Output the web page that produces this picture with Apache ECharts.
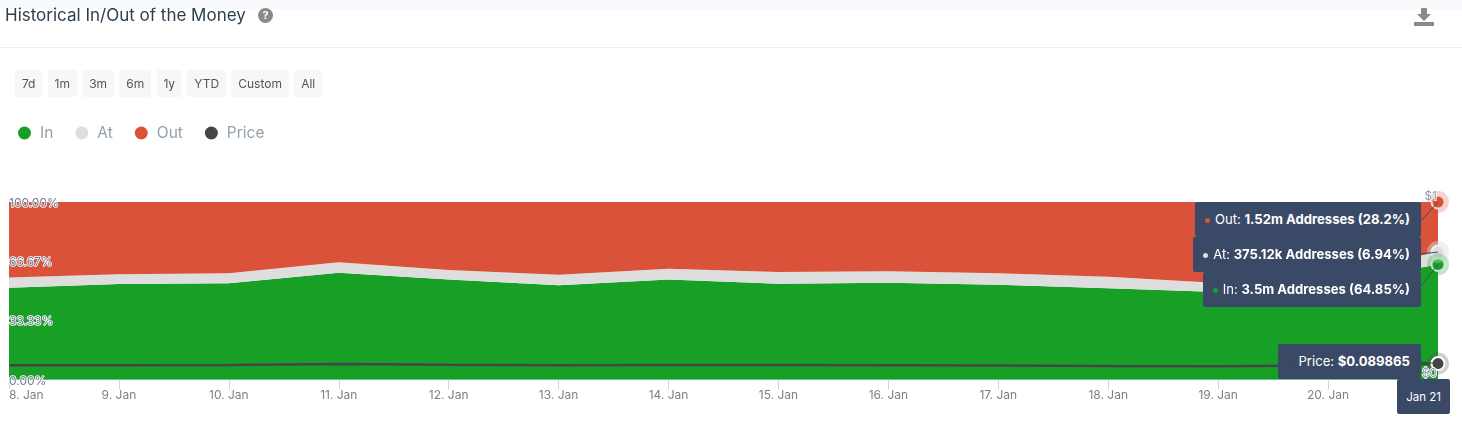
<!DOCTYPE html>
<html>
<head>
<meta charset="utf-8">
<title>Historical In/Out of the Money</title>
<script src="https://cdn.jsdelivr.net/npm/echarts@6/dist/echarts.min.js"></script>
<style>
    html, body { margin: 0; padding: 0; background: #fff; font-family: Inter, "Noto Sans", sans-serif; }
    #page { position: relative; width: 1462px; height: 431px; overflow: hidden; }
    #topBand { position: absolute; left: 0; top: 0; width: 1462px; height: 9px; background: #f8f9fd; }
    #pageTitle { position: absolute; left: 5px; top: 5px; font-size: 17px; line-height: 20px; color: #2d3e4e; }
    #helpIcon { position: absolute; left: 258px; top: 8px; width: 15px; height: 15px; border-radius: 50%; background: #8a8a8a; color: #fff; font-size: 11px; font-weight: 700; line-height: 15px; text-align: center; }
    #saveIcon { position: absolute; left: 1414px; top: 8px; }
    #titleRule { position: absolute; left: 0; top: 47px; width: 1462px; height: 1px; background: #eeeeee; }
    #ranges { position: absolute; left: 15px; top: 70px; display: flex; gap: 5.4px; }
    #ranges div { height: 27px; line-height: 28px; padding: 0 6.9px; background: #f7f7f7; border-radius: 2px; font-size: 12px; color: #555; }
    #chart { position: absolute; left: 0; top: 0; width: 1462px; height: 431px; }
    .tip { position: absolute; right: 41px; height: 35px; line-height: 35px; padding: 0 11px 0 10px; background: #3a4a66; border-radius: 2px; color: #fff; font-size: 13.1px; white-space: nowrap; }
    .tip i { display: inline-block; width: 5px; height: 5px; border-radius: 50%; margin-right: 5px; vertical-align: 1px; }
    #dateTip { position: absolute; left: 1397px; top: 379px; width: 53px; height: 35px; line-height: 36px; background: #3a4a66; border-radius: 2px; color: #fff; font-size: 11.5px; text-align: center; }
</style>
</head>
<body>
<div id="page">
    <div id="chart"></div>
    <div id="topBand"></div>
    <div id="pageTitle">Historical In/Out of the Money</div>
    <div id="helpIcon">?</div>
    <svg id="saveIcon" width="20" height="18" viewBox="0 0 20 18"><path fill="#8a8a8a" d="M7 0h6v6h4l-7 7-7-7h4zM0 14h20v4H0z"/></svg>
    <div id="titleRule"></div>
    <div id="ranges"></div>
    <div id="tips"></div>
    <div id="dateTip">Jan 21</div>
</div>
<script>
var rangeLabels = ['7d', '1m', '3m', '6m', '1y', 'YTD', 'Custom', 'All'];
var days = ['8. Jan', '9. Jan', '10. Jan', '11. Jan', '12. Jan', '13. Jan', '14. Jan', '15. Jan', '16. Jan', '17. Jan', '18. Jan', '19. Jan', '20. Jan', '21. Jan'];
// 百分比，从图上读出来的
var inShare = [51.7, 53.8, 54.2, 60.2, 56.4, 53.1, 56.4, 54.0, 54.5, 53.4, 51.4, 49.3, 53.8, 64.85];
var atShare = [5.7, 5.5, 5.6, 5.8, 5.3, 5.9, 6.0, 6.6, 6.5, 6.4, 6.5, 5.1, 5.6, 6.94];
var outShare = [42.6, 40.7, 40.2, 34.0, 38.3, 41.0, 37.6, 39.4, 39.0, 40.2, 42.1, 45.6, 40.6, 28.21];
var price = [0.080, 0.080, 0.081, 0.087, 0.083, 0.080, 0.082, 0.081, 0.080, 0.079, 0.076, 0.075, 0.079, 0.089865];
var tipLines = [
    { name: 'Out', color: '#d95239', value: '1.52m Addresses (28.2%)', top: 202 },
    { name: 'At', color: '#dedede', value: '375.12k Addresses (6.94%)', top: 237 },
    { name: 'In', color: '#189f26', value: '3.5m Addresses (64.85%)', top: 272 },
    { name: 'Price', color: '#434548', value: '$0.089865', top: 344 }
];

var last = days.length - 1;

//顶部时间按钮
document.getElementById('ranges').innerHTML = rangeLabels.map(function (t) {
    return '<div>' + t + '</div>';
}).join('');

//悬浮提示
document.getElementById('tips').innerHTML = tipLines.map(function (t) {
    return '<div class="tip" style="top:' + t.top + 'px"><i style="background:' + t.color + '"></i>' +
        t.name + ': <b>' + t.value + '</b></div>';
}).join('');

function lastDot(data, color) {
    // 只有最后一个点显示圆点
    return data.map(function (v, i) {
        if (i !== last) return { value: v, symbol: 'none' };
        return {
            value: v, symbol: 'circle', symbolSize: 13,
            itemStyle: { color: color, borderColor: '#fff', borderWidth: 2, opacity: 1 }
        };
    });
}

function area(name, data, color) {
    return {
        name: name, type: 'line', stack: 'share', yAxisIndex: 0, data: lastDot(data, color),
        showAllSymbol: true, itemStyle: { color: color }, lineStyle: { width: 0 },
        areaStyle: { color: color, opacity: 1 }, clip: false, z: 2, silent: true
    };
}

var atTop = inShare[last] + atShare[last];
var halos = [
    { value: [days[last], 100], itemStyle: { color: '#d95239', opacity: 0.25 } },
    { value: [days[last], atTop], itemStyle: { color: '#dedede', opacity: 0.45 } },
    { value: [days[last], inShare[last]], itemStyle: { color: '#189f26', opacity: 0.25 } }
];

var chart = echarts.init(document.getElementById('chart'), null, { renderer: 'canvas' });
var option = {
    animation: false,
    textStyle: { fontFamily: 'Inter' },
    legend: {
        left: 18, top: 125, padding: 0, icon: 'circle', itemWidth: 13, itemHeight: 13, itemGap: 22,
        data: ['In', 'At', 'Out', 'Price'],
        textStyle: { color: '#93a1ad', fontSize: 15.5, fontFamily: 'Inter', padding: [0, 0, 0, 4] },
        selectedMode: false
    },
    grid: { left: 9, right: 24, top: 202, bottom: 51.5 },
    xAxis: {
        type: 'category', data: days, boundaryGap: false,
        axisLine: { lineStyle: { color: '#ccd6eb' } },
        axisTick: { alignWithLabel: true, length: 10, lineStyle: { color: '#ccd6eb' } },
        axisLabel: {
            interval: 0, color: '#808080', fontSize: 12, margin: 10, alignMinLabel: 'left', fontFamily: 'Inter',
            // 最后一天的刻度文字被日期提示框盖住，不显示
            formatter: function (v) { return v === days[last] ? '' : v; }
        }
    },
    yAxis: [{
        type: 'value', min: 0, max: 100, interval: 100 / 3, z: 10,
        axisLine: { show: false }, axisTick: { show: false }, splitLine: { show: false },
        axisLabel: {
            inside: true, margin: 0, color: '#6f7d92', fontSize: 12, fontFamily: 'Inter',
            verticalAlign: 'top', padding: [-4.5, 0, 0, 0],
            textBorderColor: '#fff', textBorderWidth: 1.5,
            formatter: function (v) { return v.toFixed(2) + '%'; }
        }
    }, {
        type: 'value', min: 0, max: 1, interval: 1, position: 'right', z: 10,
        axisLine: { show: false }, axisTick: { show: false }, splitLine: { show: false },
        axisLabel: {
            inside: true, margin: 1, color: '#8c9bb0', fontSize: 12, fontFamily: 'Inter', verticalAlign: 'bottom',
            textBorderColor: '#fff', textBorderWidth: 1.5,
            formatter: function (v) { return '$' + v; }
        }
    }],
    series: [
        area('In', inShare, '#189f26'),
        area('At', atShare, '#dedede'),
        area('Out', outShare, '#d95239'),
        {
            name: 'Price', type: 'line', yAxisIndex: 1, data: lastDot(price, '#434548'), showAllSymbol: true,
            itemStyle: { color: '#434548' }, lineStyle: { color: '#434548', width: 2.5 }, clip: false, z: 5, silent: true
        },
        {
            name: 'halo', type: 'scatter', yAxisIndex: 0, data: halos, symbolSize: 22, clip: false, z: 3, silent: true
        },
        {
            name: 'priceHalo', type: 'scatter', yAxisIndex: 1, data: [{ value: [days[last], price[last]], itemStyle: { color: '#434548', opacity: 0.25 } }],
            symbolSize: 22, clip: false, z: 3, silent: true
        }
    ]
};
chart.setOption(option);

//提示框到圆点的连线
var ends = [
    [100, 0, 221], [atTop, 0, 254], [inShare[last], 0, 286], [price[last], 1, 362]
];
chart.setOption({
    graphic: ends.map(function (e) {
        var p = chart.convertToPixel({ xAxisIndex: 0, yAxisIndex: e[1] }, [last, e[0]]);
        return {
            type: 'line', z: 20, silent: true,
            shape: { x1: 1421, y1: e[2], x2: p[0], y2: p[1] },
            style: { stroke: '#3a4a66', lineWidth: 1 }
        };
    })
});
</script>
</body>
</html>
